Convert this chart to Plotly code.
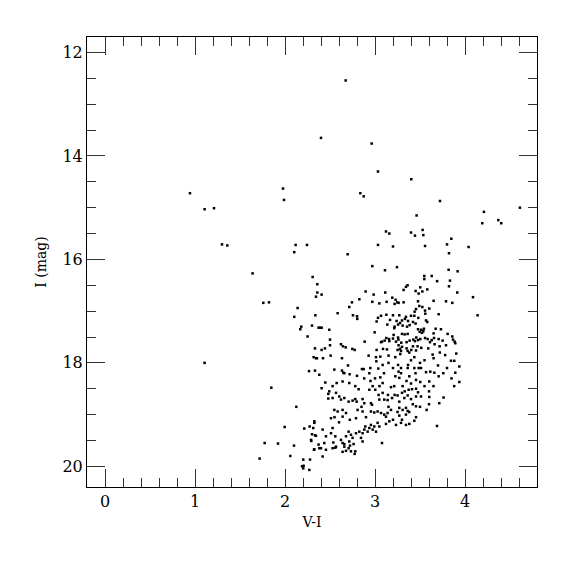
import plotly.graph_objects as go

# Colour index V-I (x) and I magnitude (y) for each star
pts = [
# sparse upper stars
(0.944,14.72),(1.107,15.03),(1.211,15.01),(1.30,15.71),(1.359,15.73),(1.978,14.63),(1.989,14.85),
(2.103,15.86),(2.118,15.72),(2.244,15.72),(2.40,13.65),(2.674,12.54),(2.696,15.90),(2.837,14.72),
(2.874,14.78),(2.963,13.76),(3.033,14.30),(3.033,15.72),(3.122,15.46),(3.159,15.50),(3.20,15.75),
(3.403,14.45),(3.40,15.48),(3.444,15.54),(3.462,15.15),(3.529,15.43),(3.537,15.53),(3.556,15.74),
(3.722,14.87),(3.80,15.71),(3.848,15.60),(3.822,15.88),(4.04,15.76),(4.192,15.30),(4.21,15.08),
(4.37,15.24),(4.403,15.30),(4.61,15.00),
# left branch
(1.64,16.27),(2.307,16.34),(2.359,16.48),(2.359,16.64),(2.344,16.72),(1.759,16.84),(1.822,16.83),
(2.14,16.94),(2.103,17.11),(2.337,17.08),(2.181,17.30),(2.17,17.35),(2.30,17.28),(2.373,17.32),
(2.251,17.49),(2.333,17.72),(2.318,17.89),(2.344,17.91),
# upper cloud
(2.97,16.13),(3.244,16.15),(3.111,16.21),(3.818,16.20),(3.918,16.23),(3.548,16.32),(3.63,16.32),
(3.548,16.38),(3.69,16.42),(3.833,16.41),(3.362,16.50),(3.344,16.53),(3.822,16.52),(2.407,16.68),
(3.503,16.54),(3.318,16.59),(3.451,16.61),(3.581,16.58),(3.485,16.66),(3.526,16.62),(2.896,16.62),
(2.985,16.68),(3.114,16.64),(3.914,16.64),(4.089,16.73),(2.826,16.77),(2.744,16.83),(2.97,16.82),
(3.048,16.85),(3.129,16.82),(3.192,16.74),(3.229,16.78),(3.248,16.83),(3.262,16.84),(3.318,16.83),
(3.218,16.86),(3.651,16.80),(3.789,16.81),(3.859,16.84),(3.478,16.81),(3.492,16.90),(3.456,16.96),
(3.526,16.92),(3.556,16.99),(3.603,16.95),(2.714,16.92),(2.585,17.04),(3.44,17.01),(3.559,17.05),
(3.707,17.06),(2.755,17.08),(2.80,17.10),(2.803,17.15),(3.067,17.09),(3.126,17.07),(3.20,17.08),
(3.27,17.08),(3.344,17.11),(3.40,17.09),(3.437,17.09),(3.481,17.13),(3.033,17.13),(3.018,17.20),
(3.167,17.17),(3.24,17.19),(3.30,17.18),(3.278,17.23),(3.333,17.15),(3.367,17.19),(3.422,17.21),
(3.567,17.18),(3.581,17.21),(4.14,17.08),(3.256,17.26),(3.137,17.26),(3.307,17.28),(3.356,17.30),
(3.385,17.27),(3.451,17.24),(3.218,17.30),(3.214,17.33),(2.389,17.32),(2.407,17.32),(2.492,17.36),
(2.996,17.41),(3.478,17.35),(3.514,17.36),(3.544,17.34),(3.496,17.40),(3.537,17.39),(3.522,17.42),
(3.674,17.34),(3.733,17.35),(3.651,17.43),(3.807,17.44),(3.859,17.49),(3.30,17.44),(3.33,17.45),
(3.363,17.44),(3.207,17.46),(3.20,17.53),(3.126,17.52),(3.156,17.54),(3.107,17.57),(3.159,17.58),
(3.078,17.59),(3.067,17.60),(3.256,17.51),(3.26,17.55),(3.233,17.59),(3.292,17.61),(3.351,17.60),
(3.385,17.57),(3.426,17.55),(3.459,17.51),(3.444,17.58),(3.478,17.56),(3.503,17.54),(3.556,17.52),
(3.585,17.54),(3.611,17.60),(3.63,17.56),(3.656,17.52),(3.707,17.54),(3.751,17.57),(3.867,17.55),
(3.885,17.59),(2.885,17.59),(2.50,17.55),(2.50,17.66),(2.622,17.64),(2.644,17.68),(2.674,17.70),
(3.018,17.75),(3.089,17.73),(3.133,17.74),(3.262,17.66),(3.278,17.73),(3.251,17.75),(3.289,17.77),
(3.30,17.69),(3.351,17.72),(3.363,17.77),(3.403,17.75),(3.422,17.68),(3.473,17.68),(3.514,17.71),
(3.456,17.76),(3.592,17.72),(3.662,17.64),(3.718,17.68),(3.789,17.66),(3.892,17.62),(3.903,17.82),
(2.407,17.75),(2.444,17.72),(2.748,17.73),(2.774,17.75),(2.929,17.86),(3.011,17.89),(3.059,17.88),
(3.151,17.86),(3.226,17.89),(3.281,17.83),(3.381,17.80),(3.437,17.89),(3.64,17.84),(3.651,17.91),
(2.355,17.91),(2.422,17.91),(2.507,17.86),(2.633,17.91),
# left side stragglers
(2.267,18.16),(2.333,18.15),(2.381,18.23),(2.448,18.38),(2.407,18.49),(2.481,18.60),(2.481,18.69),
(1.848,18.48),(2.126,18.85),(1.106,18.00),
# middle cloud
(2.633,18.15),(2.648,18.19),(2.548,18.13),(2.659,18.20),(2.718,18.22),(2.855,18.12),(2.874,18.12),
(2.948,18.10),(2.937,18.20),(3.037,18.11),(3.085,18.04),(3.015,17.97),(3.256,18.04),(3.289,18.10),
(3.262,18.17),(3.289,18.20),(3.363,18.10),(3.367,18.04),(3.437,18.10),(3.485,18.10),(3.511,18.10),
(3.567,18.18),(3.614,18.17),(3.659,18.19),(3.707,18.26),(3.759,18.20),(3.892,18.19),(3.937,18.07),
(3.844,17.96),(3.881,17.96),(3.226,18.26),(3.27,18.29),(3.381,18.26),(3.456,18.33),(3.503,18.37),
(3.603,18.36),(3.937,18.37),(3.059,18.28),(3.085,18.39),(3.178,18.47),(3.214,18.45),(3.307,18.45),
(3.374,18.52),(3.411,18.51),(3.456,18.50),(3.478,18.57),(3.30,18.58),(3.218,18.62),(3.144,18.62),
(3.085,18.58),(3.04,18.62),(3.003,18.52),(2.974,18.45),(2.937,18.52),(2.818,18.51),(2.781,18.45),
(2.714,18.39),(2.64,18.36),(2.574,18.39),(2.529,18.45),(2.492,18.55),(2.567,18.58),(2.603,18.65),
(2.529,18.68),(2.622,18.71),(2.659,18.68),(2.707,18.75),(2.751,18.73),(2.781,18.70),(2.796,18.75),
(2.862,18.70),(2.881,18.78),(2.955,18.78),(2.967,18.81),(3.048,18.71),(3.103,18.71),(3.14,18.72),
(3.189,18.68),(3.251,18.63),(3.27,18.75),(3.326,18.68),(3.363,18.63),(3.40,18.70),(3.456,18.65),
(3.511,18.65),(3.603,18.66),(3.714,18.78),(3.762,18.67),(2.548,18.91),(2.585,18.94),(2.64,18.91),
(2.678,18.97),(2.807,18.91),(2.862,18.94),(2.955,18.94),(2.992,18.96),(3.029,18.94),(3.067,18.97),
(3.103,19.00),(3.14,18.97),(3.178,18.91),(3.27,18.87),(3.307,18.91),(3.344,18.87),(3.363,18.93),
(3.456,18.84),(3.574,18.91),(2.511,19.07),(2.64,19.04),(2.789,19.07),(2.90,19.05),(3.122,19.04),
(3.27,19.02),(3.344,19.00),(3.456,19.05),
(3.35,18.35),(3.40,18.40),(3.33,18.55),(3.42,18.80),(3.38,18.95),(3.30,19.10),(3.20,19.10),
(3.15,18.85),(3.00,18.30),(3.05,18.45),(2.95,18.35),(3.10,18.20),(3.20,18.10),(3.45,18.20),
(3.55,18.45),(3.60,18.55),(3.65,18.45),(3.70,18.05),(3.80,18.10),(3.85,18.30),(3.88,18.45),
(3.78,17.85),(3.72,17.80),(3.55,17.95),(3.50,18.00),(3.40,17.95),(3.15,18.00),(2.88,18.30),
(2.80,18.25),(2.70,18.05),(2.85,18.85),(2.72,19.10),(2.60,19.15),(2.55,19.05),(3.25,18.95),
(3.50,18.85),(3.60,18.80),
# lower cloud
(2.326,19.16),(2.344,19.41),(2.289,19.49),(2.418,19.29),(2.455,19.42),(2.437,19.55),(2.40,19.65),
(2.511,19.36),(2.529,19.26),(2.559,19.42),(2.537,19.54),(2.567,19.62),(2.622,19.49),(2.64,19.55),
(2.659,19.62),(2.678,19.42),(2.707,19.33),(2.714,19.52),(2.733,19.39),(2.751,19.45),(2.762,19.57),
(2.789,19.36),(2.826,19.33),(2.844,19.45),(2.862,19.36),(2.881,19.29),(2.892,19.23),(2.918,19.33),
(2.937,19.26),(2.955,19.20),(2.974,19.29),(2.992,19.23),(3.029,19.16),(3.048,19.23),(3.011,19.33),
(3.078,19.55),(3.122,19.18),(3.159,19.13),(3.233,19.20),(3.289,19.16),(3.344,19.20),(3.381,19.18),
(3.437,19.12),(3.689,19.22),
(2.418,19.81),(2.326,19.67),(2.381,19.65),(2.455,19.68),(2.529,19.65),(2.559,19.64),(2.64,19.72),
(2.678,19.70),(2.707,19.65),(2.733,19.71),(2.781,19.71),(2.774,19.76),(2.659,19.57),(2.722,19.60),
(2.862,19.52),
# faint tail
(1.996,19.24),(1.774,19.55),(1.922,19.56),(1.718,19.85),(2.059,19.80),(2.10,19.60),(2.214,19.27),
(2.274,19.23),(2.314,19.26),(2.326,19.13),(2.30,19.38),(2.333,19.40),(2.292,19.51),(2.373,19.58),
(2.322,19.68),(2.203,19.87),(2.278,19.87),(2.189,20.00),(2.207,19.99),(2.203,20.04),(2.27,20.07),
]

vi = [p[0] for p in pts]
imag = [p[1] for p in pts]

x_ticks = [0, 1, 2, 3, 4]
y_ticks = [12, 14, 16, 18, 20]

FONT = "DejaVu Serif"

fig = go.Figure(go.Scatter(
    x=vi, y=imag, mode="markers",
    marker=dict(symbol="square", size=2.5, color="black", line=dict(width=0)),
    hoverinfo="skip",
))

axis_common = dict(
    showgrid=False, zeroline=False, showline=True, linecolor="black", linewidth=1,
    mirror="allticks", ticks="inside", ticklen=18, tickwidth=1, tickcolor="#333",
    tickfont=dict(family=FONT, size=16, color="black"),
)

fig.update_xaxes(
    range=[-0.2, 4.8], tickvals=x_ticks, ticktext=[str(t) for t in x_ticks],
    minor=dict(dtick=0.2, tick0=0, ticks="inside", ticklen=9, tickwidth=1, tickcolor="#333"),
    title=dict(text="V-I", font=dict(family=FONT, size=14, color="black"), standoff=6),
    **axis_common,
)
fig.update_yaxes(
    range=[20.4, 11.7], tickvals=y_ticks, ticktext=[str(t) for t in y_ticks],
    minor=dict(dtick=0.5, tick0=0, ticks="inside", ticklen=9, tickwidth=1, tickcolor="#333"),
    title=dict(text="I (mag)", font=dict(family=FONT, size=14, color="black"), standoff=12),
    **axis_common,
)

# the page body adds 8 px on the left and top, so the margins are shifted by that amount
fig.update_layout(
    width=575, height=575,
    margin=dict(l=79, r=46, t=29, b=96),
    paper_bgcolor="white", plot_bgcolor="white",
    showlegend=False,
)

fig.write_html("out.html")
